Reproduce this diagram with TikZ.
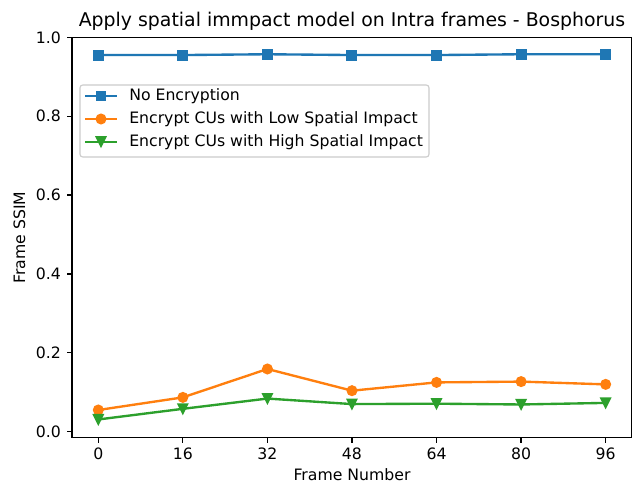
\documentclass[tikz,border=0pt]{standalone}
\usepackage{fontspec}
\setmainfont{DejaVu Sans}
\usetikzlibrary{positioning}
\definecolor{MplBlue}{HTML}{1F77B4}
\definecolor{MplOrange}{HTML}{FF7F0E}
\definecolor{MplGreen}{HTML}{2CA02C}
\definecolor{FrameGray}{gray}{0.8}
\newcommand{\sqmark}[2]{%
  \filldraw[MplBlue,line width=1.1pt] (#1,#2) ++(-3.4pt,-3.4pt) rectangle ++(6.8pt,6.8pt);}
\newcommand{\dotmark}[2]{%
  \filldraw[MplOrange,line width=1.1pt] (#1,#2) circle[radius=3.4pt];}
\newcommand{\trimark}[2]{%
  \filldraw[MplGreen,line width=1.1pt,line join=miter] (#1,#2) ++(0pt,-3.4pt) -- ++(3.4pt,6.8pt) -- ++(-6.8pt,0pt) -- cycle;}

\begin{document}
\begin{tikzpicture}[x=0.72pt,y=-0.72pt,
  every node/.style={inner sep=0pt,font=\fontsize{11.3}{13}\selectfont},
  axisline/.style={line width=0.9pt},
  dataline/.style={line width=1.7pt,line join=round,line cap=rect}]
  \fill[white] (0,0) rectangle (640,482);
  \useasboundingbox (0,0) rectangle (640,482);
  \node[anchor=base,font=\fontsize{13.6}{16}\selectfont] (title) at (352,26.5)
    {Apply spatial immpact model on Intra frames - Bosphorus};
  \node[anchor=base,rotate=90] (ylab) at (25,237.5) {Frame SSIM};
  \node[anchor=base] (xlab) at (352,480) {Frame Number};
  % data frame: x in frames, y in SSIM
  \begin{scope}[xshift=70.776pt,yshift=-310.824pt,x=3.8052pt,y=283.968pt]
    \draw[axisline] (-5,-0.0152) rectangle (100.9,1);
    \foreach \x in {0,16,...,96}{
      \draw[axisline] (\x,-0.0152) -- ++(0pt,-3.5pt);
      \path (\x,-0.0152) ++(0pt,-15.7pt) node[anchor=base] (xt\x) {\x};}
    \foreach \y [count=\i] in {0.0,0.2,0.4,0.6,0.8,1.0}
      \draw[axisline] (-5,\y) -- ++(-3.5pt,0pt) node[left=4pt] (yt\i) {\y};
    \draw[dataline,MplBlue] (0,0.955) -- (16,0.955) -- (32,0.957) -- (48,0.955)
      -- (64,0.955) -- (80,0.957) -- (96,0.957);
    \foreach \x/\y in {0/0.955,16/0.955,32/0.957,48/0.955,64/0.955,80/0.957,96/0.957}
      {\sqmark{\x}{\y}}
    \draw[dataline,MplOrange] (0,0.055) -- (16,0.087) -- (32,0.159) -- (48,0.104)
      -- (64,0.125) -- (80,0.127) -- (96,0.120);
    \foreach \x/\y in {0/0.055,16/0.087,32/0.159,48/0.104,64/0.125,80/0.127,96/0.120}
      {\dotmark{\x}{\y}}
    \draw[dataline,MplGreen] (0,0.031) -- (16,0.058) -- (32,0.084) -- (48,0.070)
      -- (64,0.071) -- (80,0.069) -- (96,0.073);
    \foreach \x/\y in {0/0.031,16/0.058,32/0.084,48/0.070,64/0.071,80/0.069,96/0.073}
      {\trimark{\x}{\y}}
  \end{scope}
  % legend
  \draw[FrameGray,line width=0.8pt,rounded corners=2pt,fill=white,fill opacity=0.8]
    (80,85) rectangle (429,157);
  \foreach \row/\mk/\col/\txt [count=\i] in {96/\sqmark/MplBlue/No Encryption,
      119/\dotmark/MplOrange/Encrypt CUs with Low Spatial Impact,
      141.7/\trimark/MplGreen/Encrypt CUs with High Spatial Impact}{
    \draw[dataline,\col] (86,\row) -- (116,\row);
    \mk{101}{\row}
    \node[anchor=base west] (leg\i) at (129,\row+5) {\txt};}
\end{tikzpicture}
\end{document}
